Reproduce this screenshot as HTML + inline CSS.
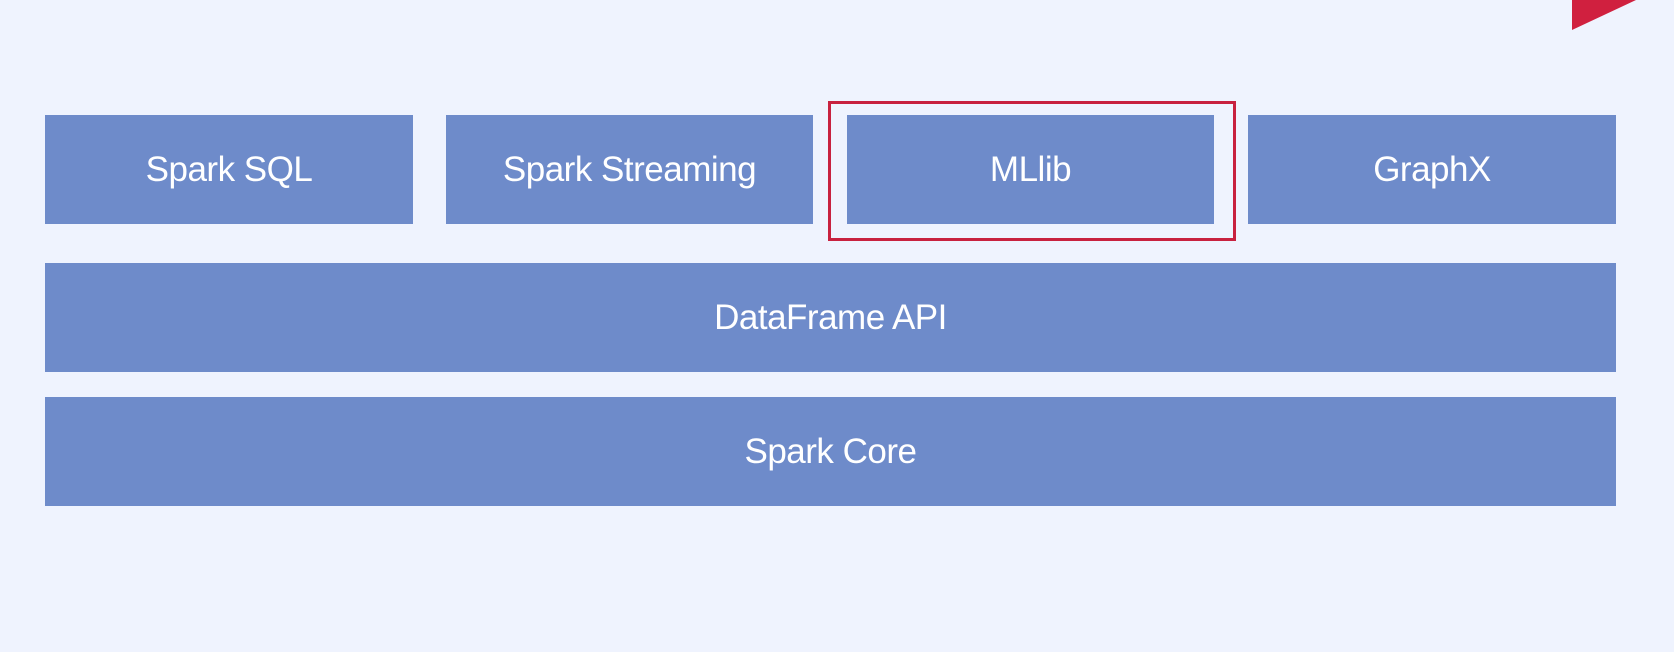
<!DOCTYPE html>
<html><head><style>
body{margin:0;width:1674px;height:652px;background:#eff3fe;position:relative;overflow:hidden;font-family:"Liberation Sans","DejaVu Sans",sans-serif}
.b{position:absolute;background:#6e8bca;color:#fff;display:flex;align-items:center;justify-content:center;font-size:35px;letter-spacing:-0.5px}
</style></head><body>
<div class="b" style="left:45px;top:115px;width:368px;height:109px">Spark SQL</div>
<div class="b" style="left:446px;top:115px;width:367px;height:109px">Spark Streaming</div>
<div class="b" style="left:847px;top:115px;width:367px;height:109px">MLlib</div>
<div class="b" style="left:1248px;top:115px;width:368px;height:109px">GraphX</div>
<div style="position:absolute;left:828px;top:101px;width:402px;height:134px;border:3px solid #c8213f"></div>
<div class="b" style="left:45px;top:263px;width:1571px;height:109px">DataFrame API</div>
<div class="b" style="left:45px;top:397px;width:1571px;height:109px">Spark Core</div>
<svg style="position:absolute;left:0;top:0" width="1674" height="652"><polygon points="1572,0 1636,0 1572,30" fill="#d0203f"/></svg>
</body></html>
